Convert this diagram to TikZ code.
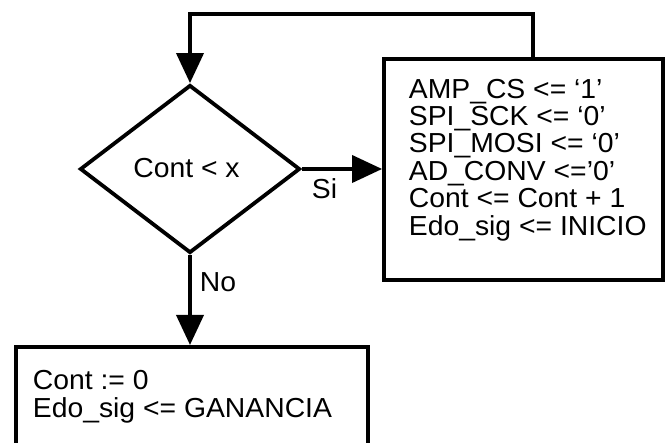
\documentclass[tikz,border=0pt]{standalone}
\usepackage{fontspec}
\setmainfont{Liberation Sans}[FakeStretch=1.03]
\usetikzlibrary{shapes.geometric,arrows.meta}
\begin{document}
\begin{tikzpicture}[x=1pt,y=-1pt, line width=3.8pt,
  lbl/.style={font=\fontsize{27.5}{27.4}\selectfont, inner sep=0pt, text=black},
  arr/.style={-{Triangle[width=27pt,length=30pt]}},
  boxed/.style={draw, rectangle, inner sep=0pt}]
\useasboundingbox (0,0) rectangle (665,443);
\clip (0,0) rectangle (665,443);
\node[draw, shape=diamond, aspect=1.31, minimum width=220pt, minimum height=168pt] (dec) at (190,169) {};
\node[lbl, anchor=base] (dectext) at (186.5,178) {Cont < x};
\node[boxed, minimum width=279pt, minimum height=221pt] (rbox) at (523.5,169.5) {};
\node[lbl, anchor=north west, align=left] (rtext) at (407,77)
  {AMP\_CS <= ‘1’\\SPI\_SCK <= ‘0’\\SPI\_MOSI <= ‘0’\\AD\_CONV <=’0’\\Cont <= Cont + 1\\Edo\_sig <= INICIO};
\node[boxed, minimum width=352pt, minimum height=140pt, anchor=north west] (bbox) at (14,345) {};
\node[lbl, anchor=north west, align=left, font=\fontsize{27.5}{28.5}\selectfont] (btext) at (31,368)
  {Cont := 0\\Edo\_sig <= GANANCIA};
\coordinate (lt) at (533,14);
\draw[arr] (rbox.north -| lt) -- (lt) -| (dec.north);
\draw[arr] (dec.east) -- (rbox.west |- dec.east);
\node[lbl, anchor=base west] (si) at (310,199) {Si};
\draw[arr] (dec.south) -- (bbox.north -| dec.south);
\node[lbl, anchor=base west] (no) at (198,292) {No};
\end{tikzpicture}
\end{document}
